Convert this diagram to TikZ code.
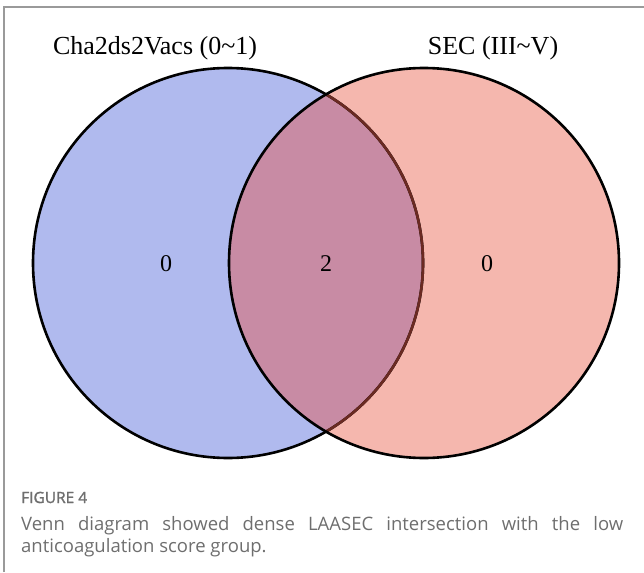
\documentclass[tikz,border=0pt]{standalone}
\usepackage{fontspec}
\setmainfont{Liberation Serif}
\newfontfamily\capfont{Open Sans}
\newfontfamily\capsemi{Open Sans}[FakeBold=1.6]
\definecolor{vblue}{HTML}{B0BAEE}
\definecolor{vpink}{HTML}{F5B7AE}
\definecolor{vmix}{HTML}{C88BA4}
\definecolor{vedge}{HTML}{6B2A22}
\definecolor{framegray}{HTML}{9A9A9A}
\definecolor{capgray}{HTML}{6E6E6E}
\tikzset{
  ring/.style={line width=2.6pt},
  title/.style={font=\fontsize{26}{30}\selectfont, anchor=base, inner sep=0pt},
  count/.style={font=\fontsize{24}{28}\selectfont, inner sep=0pt},
  figlabel/.style={font=\capsemi\fontsize{15.5}{18}\selectfont, text=capgray, anchor=base west, inner sep=0pt},
  captext/.style={font=\capfont\fontsize{18.5}{22}\selectfont, text=capgray, anchor=base west, inner sep=0pt}
}
\begin{document}
\begin{tikzpicture}[x=1pt,y=-1pt]
\useasboundingbox (0,0) rectangle (644,572);
% frame
\draw[framegray, line width=1.4pt] (4,572) -- (4,7) -- (644,7);
% circle centres
\coordinate (cl) at (228,263);
\coordinate (cr) at (424,263);
% fills
\fill[vblue] (cl) circle[radius=195pt];
\fill[vpink] (cr) circle[radius=195pt];
\begin{scope}
  \clip (cl) circle[radius=195pt];
  \fill[vmix] (cr) circle[radius=195pt];
\end{scope}
% outlines
\draw[ring, black] (cl) circle[radius=195pt];
\begin{scope}
  \clip (cr) circle[radius=195pt];
  \draw[ring, vedge] (cl) circle[radius=195pt];
\end{scope}
\draw[ring, black] (cr) circle[radius=195pt];
% titles
\node[title] (tl) at (155,55) {Cha2ds2Vacs (0\char"007E 1)};
\node[title] (tr) at (493,55) {SEC (III\char"007E V)};
% counts
\node[count] (nl) at (166,264) {0};
\node[count] (nm) at (326,264) {2};
\node[count] (nr) at (487,264) {0};
% caption
\node[figlabel] (fig) at (21,503) {FIGURE 4};
\node[captext] (cap1) at (21,530) {\makebox[602pt][s]{Venn diagram showed dense LAASEC intersection with the low}};
\node[captext] (cap2) at (21,552) {anticoagulation score group.};
\end{tikzpicture}
\end{document}
